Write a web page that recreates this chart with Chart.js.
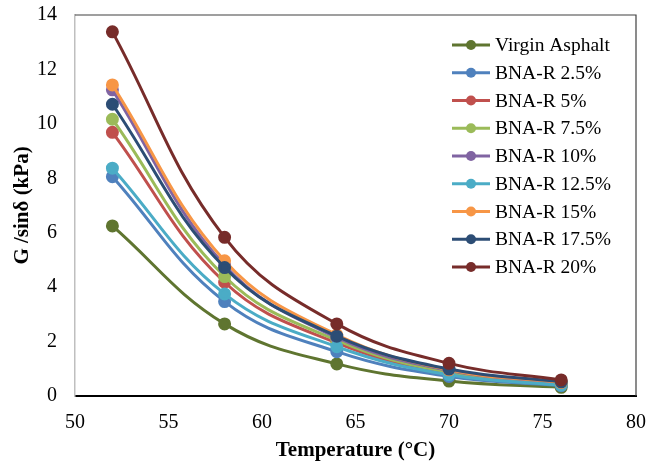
<!DOCTYPE html>
<html lang="en">
<head>
    <meta charset="UTF-8">
    <title>G*/sin δ vs Temperature</title>
    <style>
        body { margin: 0; padding: 0; background: #fff; }
        .wrap { width: 648px; height: 463px; }
    </style>
</head>
<body>
    <div class="wrap"><canvas id="chart" width="648" height="463"></canvas></div>

    <script src="https://cdn.jsdelivr.net/npm/chart.js"></script>
    <script>
        // Temperaturas (°C)
        const temperatures = [52, 58, 64, 70, 76];

        // G*/sin δ (kPa) por amostra
        const virginAsphalt = [6.25, 2.65, 1.18, 0.55, 0.32];
        const bna25  = [8.06, 3.47, 1.63, 0.72, 0.38];
        const bna5   = [9.69, 4.18, 1.95, 0.82, 0.42];
        const bna75  = [10.17, 4.39, 2.05, 0.86, 0.44];
        const bna10  = [11.25, 4.80, 2.15, 0.94, 0.48];
        const bna125 = [8.37, 3.75, 1.81, 0.78, 0.40];
        const bna15  = [11.43, 4.97, 2.25, 0.96, 0.50];
        const bna175 = [10.72, 4.72, 2.20, 0.99, 0.52];
        const bna20  = [13.38, 5.83, 2.65, 1.20, 0.59];

        const seriesNames = ['Virgin Asphalt', 'BNA-R 2.5%', 'BNA-R 5%', 'BNA-R 7.5%', 'BNA-R 10%',
                             'BNA-R 12.5%', 'BNA-R 15%', 'BNA-R 17.5%', 'BNA-R 20%'];
        const seriesValues = [virginAsphalt, bna25, bna5, bna75, bna10, bna125, bna15, bna175, bna20];
        const seriesColors = ['#5f7530', '#4f81bd', '#c0504d', '#9bbb59', '#8064a2',
                              '#4bacc6', '#f79646', '#2c4d75', '#772c2a'];

        const FONT = "'Liberation Serif', 'Times New Roman', serif";

        const datasets = seriesNames.map((name, i) => ({
            label: name,
            data: temperatures.map((t, j) => ({ x: t, y: seriesValues[i][j] })),
            borderColor: seriesColors[i],
            backgroundColor: seriesColors[i],
            borderWidth: 3,
            pointRadius: 5,
            pointHoverRadius: 5,
            tension: 0.4,
            fill: false,
            order: seriesNames.length - i   // última série por cima, como no Excel
        }));

        // moldura da área de plotagem (topo e direita)
        const plotBox = {
            id: 'plotBox',
            beforeDatasetsDraw(chart) {
                const a = chart.chartArea;
                const ctx = chart.ctx;
                ctx.save();
                ctx.strokeStyle = '#404040';
                ctx.lineWidth = 1.2;
                ctx.beginPath();
                ctx.moveTo(a.left, a.top);
                ctx.lineTo(a.right, a.top);
                ctx.lineTo(a.right, a.bottom);
                ctx.stroke();
                ctx.restore();
            }
        };

        // legenda desenhada dentro da área do gráfico
        const insideLegend = {
            id: 'insideLegend',
            afterDraw(chart) {
                const ctx = chart.ctx;
                ctx.save();
                ctx.font = '19.5px ' + FONT;
                ctx.textBaseline = 'middle';
                chart.data.datasets.forEach((ds, i) => {
                    const y = 45 + i * 27.75;
                    ctx.strokeStyle = ds.borderColor;
                    ctx.lineWidth = 3;
                    ctx.beginPath();
                    ctx.moveTo(452, y);
                    ctx.lineTo(490, y);
                    ctx.stroke();
                    ctx.fillStyle = ds.borderColor;
                    ctx.beginPath();
                    ctx.arc(471, y, 5, 0, Math.PI * 2);
                    ctx.fill();
                    ctx.fillStyle = '#000';
                    ctx.fillText(ds.label, 495, y + 1);
                });
                ctx.restore();
            }
        };

        new Chart(document.getElementById('chart'), {
            type: 'line',
            data: { datasets: datasets },
            options: {
                responsive: false,
                animation: false,
                layout: { padding: { top: 15, right: 12, left: 0, bottom: 0 } },
                plugins: {
                    legend: { display: false },
                    tooltip: { enabled: false }
                },
                scales: {
                    x: {
                        type: 'linear',
                        min: 50, max: 80,
                        afterFit: s => { s.height = 67; s.paddingLeft = 0; s.paddingRight = 0; },
                        ticks: { stepSize: 5, color: '#000', font: { family: FONT, size: 20 }, padding: 15 },
                        grid: { display: false, drawTicks: false },
                        border: { color: '#000', width: 2 },
                        title: { display: true, text: 'Temperature (°C)', color: '#000',
                                 font: { family: FONT, size: 21, weight: 'bold' }, padding: { top: 0, bottom: 0 } }
                    },
                    y: {
                        min: 0, max: 14,
                        afterFit: s => { s.width = 75; s.paddingTop = 0; s.paddingBottom = 0; },
                        ticks: { stepSize: 2, color: '#000', font: { family: FONT, size: 20 }, padding: 18 },
                        grid: { display: false, drawTicks: false },
                        border: { color: '#bfbfbf', width: 1.5 },
                        title: { display: true, text: 'G /sinδ (kPa)', color: '#000',
                                 font: { family: FONT, size: 21, weight: 'bold' }, padding: { top: 10, bottom: 0 } }
                    }
                }
            },
            plugins: [plotBox, insideLegend]
        });
    </script>
</body>
</html>
